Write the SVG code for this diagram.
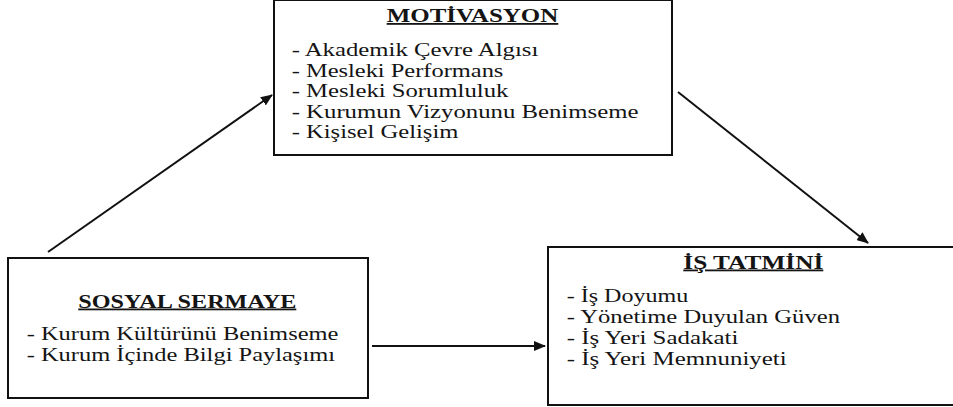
<svg xmlns="http://www.w3.org/2000/svg" width="953" height="407" viewBox="0 0 953 407">
<style>
.box{fill:none;stroke:#111;stroke-width:2}
text{font-family:"Liberation Serif","Times New Roman",serif;fill:#141414}
.t{font-size:19px}
.h{font-size:18px;font-weight:bold;text-decoration:underline}
.c{stroke:#111;stroke-width:2;fill:none;marker-end:url(#ah)}
</style>
<defs>
<marker id="ah" markerWidth="12" markerHeight="10" refX="11" refY="5" orient="auto" markerUnits="userSpaceOnUse">
<path d="M0,0 L12,5 L0,10 Z" fill="#111"/>
</marker>
</defs>
<rect width="953" height="407" fill="#fff"/>
<g id="motivasyon">
<rect class="box" x="274" y="0" width="398" height="155"/>
<text class="h" x="386.7" y="22" textLength="171.6" lengthAdjust="spacingAndGlyphs">MOTİVASYON</text>
<text class="t" x="291.7" y="56" textLength="246.6" lengthAdjust="spacingAndGlyphs">- Akademik Çevre Algısı</text>
<text class="t" x="291.7" y="76.5" textLength="211.7" lengthAdjust="spacingAndGlyphs">- Mesleki Performans</text>
<text class="t" x="291.7" y="97" textLength="216.7" lengthAdjust="spacingAndGlyphs">- Mesleki Sorumluluk</text>
<text class="t" x="291.7" y="117.5" textLength="346.7" lengthAdjust="spacingAndGlyphs">- Kurumun Vizyonunu Benimseme</text>
<text class="t" x="291.7" y="138" textLength="166.7" lengthAdjust="spacingAndGlyphs">- Kişisel Gelişim</text>
</g>
<g id="sosyal-sermaye">
<rect class="box" x="8" y="258" width="360" height="140"/>
<text class="h" x="78.3" y="307.5" textLength="218" lengthAdjust="spacingAndGlyphs">SOSYAL SERMAYE</text>
<text class="t" x="26.7" y="340" textLength="311.7" lengthAdjust="spacingAndGlyphs">- Kurum Kültürünü Benimseme</text>
<text class="t" x="26.7" y="360.5" textLength="308.3" lengthAdjust="spacingAndGlyphs">- Kurum İçinde Bilgi Paylaşımı</text>
</g>
<g id="is-tatmini">
<path class="box" d="M953,247 H548 V405 H953"/>
<text class="h" x="683.3" y="268.5" textLength="140" lengthAdjust="spacingAndGlyphs">İŞ TATMİNİ</text>
<text class="t" x="566.7" y="301.7" textLength="121.7" lengthAdjust="spacingAndGlyphs">- İş Doyumu</text>
<text class="t" x="566.7" y="322.5" textLength="273.3" lengthAdjust="spacingAndGlyphs">- Yönetime Duyulan Güven</text>
<text class="t" x="566.7" y="344" textLength="171.7" lengthAdjust="spacingAndGlyphs">- İş Yeri Sadakati</text>
<text class="t" x="566.7" y="365" textLength="220" lengthAdjust="spacingAndGlyphs">- İş Yeri Memnuniyeti</text>
</g>
<g id="connectors">
<line class="c" x1="48" y1="252" x2="272" y2="95"/>
<line class="c" x1="678" y1="92" x2="868" y2="243"/>
<line class="c" x1="372" y1="346" x2="545" y2="346"/>
</g>
</svg>
